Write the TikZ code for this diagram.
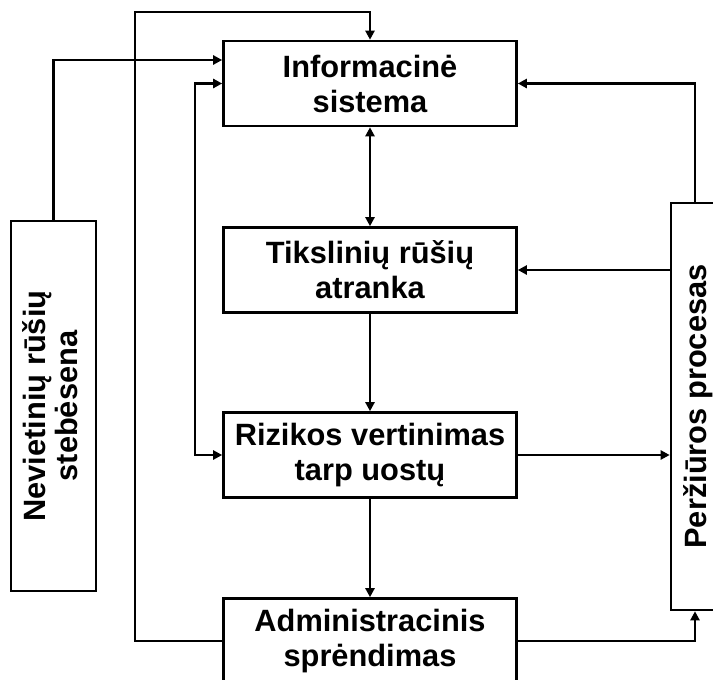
\documentclass[tikz,border=0pt]{standalone}
\usepackage{fontspec}
\setmainfont{Liberation Sans}
\usetikzlibrary{arrows.meta}
\begin{document}
\begin{tikzpicture}[x=1pt,y=-1pt,
  box/.style={draw,line width=2.6pt,rectangle,inner sep=0pt,align=center,
    font=\fontsize{30.8}{35}\selectfont\bfseries},
  hbox/.style={box,minimum width=293pt,minimum height=85pt},
  conn/.style={line width=2.6pt},
  arr/.style={conn,-{Triangle[length=9pt,width=9pt]}},
  arrb/.style={conn,{Triangle[length=9pt,width=9pt]}-{Triangle[length=9pt,width=9pt]}}]
\useasboundingbox (0,0) rectangle (713,680);
\node[hbox] (info) at (370,83.5) {Informacinė\\sistema};
\node[hbox] (tiks) at (370,270) {Tikslinių rūšių\\atranka};
\node[hbox] (riz) at (370,455) {Rizikos vertinimas\\tarp uostų};
\node[hbox] (adm) at (370,641) {Administracinis\\sprėndimas};
\node[box,minimum width=85pt,minimum height=370pt] (nev) at (53.5,406)
  {\hspace*{3pt}\rotatebox{90}{\begin{tabular}{@{}c@{}}Nevietinių rūšių\\[-3pt]stebėsena\end{tabular}}};
\node[box,minimum width=48pt,minimum height=407pt] (per) at (695,406.5)
  {\hspace*{6pt}\rotatebox{90}{Peržiūros procesas}};
\coordinate (tl) at (135,12);
\coordinate (lx) at (195,270);
\draw[arr] (nev.north) |- (info.west |- 0,60);
\draw[arr] (adm.west) -| (tl) -| (info.north);
\draw[arrb] (info.west) -| (lx) |- (riz.west);
\draw[arrb] (info.south) -- (tiks.north);
\draw[arr] (tiks.south) -- (riz.north);
\draw[arr] (riz.south) -- (adm.north);
\draw[arr] (per.north) |- (info.east);
\draw[arr] (per.west |- tiks.east) -- (tiks.east);
\draw[arr] (riz.east) -- (per.west |- riz.east);
\draw[arr] (adm.east) -| (per.south);
\end{tikzpicture}
\end{document}
